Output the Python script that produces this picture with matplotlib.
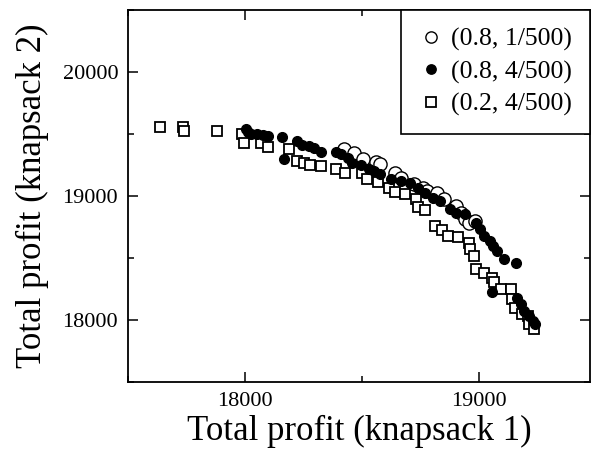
import matplotlib
matplotlib.use("Agg")
from matplotlib import pyplot as plt
from matplotlib.ticker import MultipleLocator

plt.rcParams["font.family"] = ["Liberation Serif", "DejaVu Serif"]

# (0.8, 1/500) - open circles
open_x = [18423, 18464, 18504, 18561, 18577, 18641, 18666, 18722, 18762,
          18779, 18819, 18851, 18900, 18924, 18940, 18956, 18981]
open_y = [19376, 19349, 19301, 19274, 19255, 19188, 19148, 19094, 19067,
          19040, 19027, 18973, 18919, 18866, 18817, 18785, 18798]

# (0.8, 4/500) - filled circles
fill_x = [18005, 18011, 18027, 18053, 18076, 18100, 18157, 18165, 18221,
          18245, 18273, 18296, 18323, 18391, 18412, 18439, 18456, 18496,
          18528, 18553, 18577, 18625, 18666, 18706, 18738, 18771, 18803,
          18835, 18876, 18900, 18940, 18989, 19005, 19021, 19048, 19061,
          19077, 19107, 19158, 19057, 19162, 19178, 19191, 19215, 19231,
          19239]
fill_y = [19543, 19516, 19497, 19497, 19492, 19484, 19478, 19301, 19444,
          19411, 19403, 19390, 19355, 19355, 19336, 19304, 19269, 19250,
          19220, 19202, 19175, 19134, 19121, 19108, 19067, 19027, 18987,
          18960, 18892, 18866, 18852, 18785, 18731, 18677, 18637, 18597,
          18556, 18489, 18462, 18226, 18180, 18126, 18073, 18032, 17992,
          17965]

# (0.2, 4/500) - open squares
sq_x = [17636, 17737, 17740, 17882, 17989, 17995, 18069, 18100, 18186,
        18221, 18254, 18278, 18323, 18388, 18426, 18499, 18520, 18569,
        18617, 18641, 18682, 18730, 18738, 18767, 18811, 18843, 18868,
        18908, 18956, 18960, 18977, 18989, 19021, 19057, 19065, 19094,
        19138, 19142, 19153, 19183, 19210, 19215, 19234]
sq_y = [19556, 19556, 19522, 19522, 19497, 19430, 19430, 19395, 19382,
        19282, 19263, 19253, 19242, 19220, 19188, 19183, 19134, 19113,
        19067, 19032, 19013, 18973, 18914, 18887, 18758, 18726, 18677,
        18672, 18624, 18570, 18516, 18409, 18382, 18339, 18306, 18253,
        18247, 18167, 18099, 18046, 18032, 17965, 17925]

fig = plt.figure(figsize=(5.95, 4.58), dpi=100)
ax = fig.add_axes([0.215, 0.166, 0.777, 0.812])

sq, = ax.plot(sq_x, sq_y, "s", ms=7.5, mfc="white", mec="black", mew=1.3,
              label="(0.2, 4/500)", zorder=2)
op, = ax.plot(open_x, open_y, "o", ms=9.5, mfc="white", mec="black", mew=1.0,
              label="(0.8, 1/500)", zorder=3)
fl, = ax.plot(fill_x, fill_y, "o", ms=7, mfc="black", mec="black",
              label="(0.8, 4/500)", zorder=4)

ax.set_xlim(17500, 19475)
ax.set_ylim(17500, 20500)
ax.xaxis.set_major_locator(MultipleLocator(1000))
ax.xaxis.set_minor_locator(MultipleLocator(500))
ax.yaxis.set_major_locator(MultipleLocator(1000))
ax.yaxis.set_minor_locator(MultipleLocator(500))
ax.tick_params(which="both", direction="in", top=True, right=True,
               width=1.1, labelsize=16)
ax.tick_params(which="major", length=7, pad=7)
ax.tick_params(which="minor", length=4)
for s in ax.spines.values():
    s.set_linewidth(1.3)

ax.set_xlabel("Total profit (knapsack 1)", fontsize=25, labelpad=3)
ax.set_ylabel("Total profit (knapsack 2)", fontsize=25, labelpad=10)

# legend order as in the original: open, filled, squares
leg = ax.legend([op, fl, sq], [op.get_label(), fl.get_label(), sq.get_label()],
                loc="upper right", borderaxespad=0, fontsize=18.5,
                fancybox=False, edgecolor="black", framealpha=1,
                handletextpad=0.35, handlelength=0.9, borderpad=0.7,
                labelspacing=0.35)
leg.get_frame().set_linewidth(1.2)
for hd, ms in zip(leg.legend_handles, [9, 7.5, 8]):
    hd.set_markersize(ms * 0.9)

fig.savefig("out.png", dpi=100)
